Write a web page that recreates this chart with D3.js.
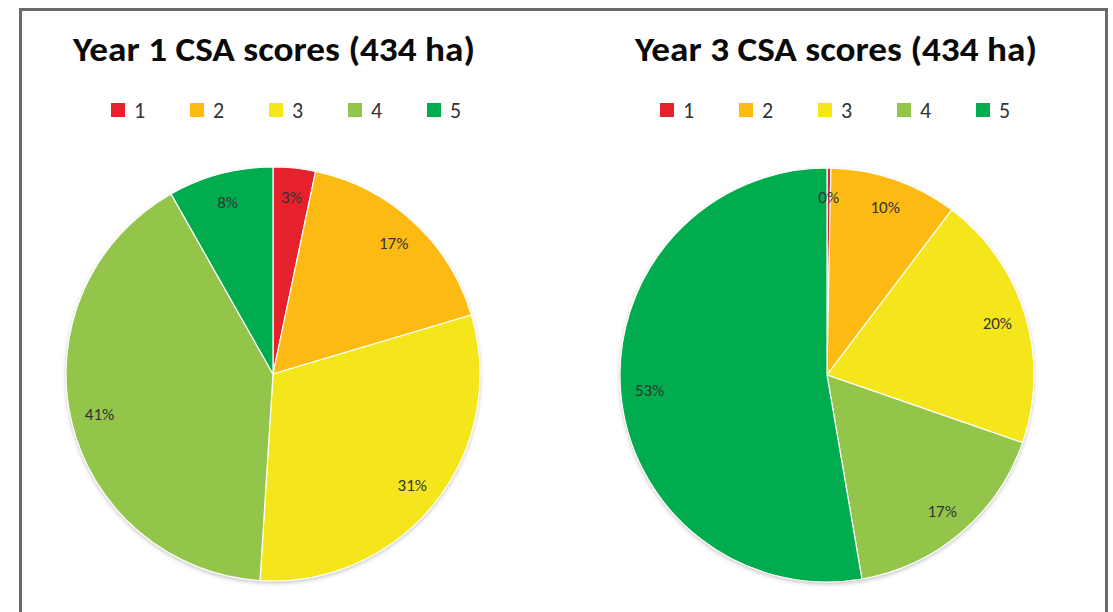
<!DOCTYPE html>
<html>
<head>
<meta charset="utf-8">
<script src="https://cdn.jsdelivr.net/npm/d3@7"></script>
<style>
  body { margin: 0; background: #fff; }
  svg text { font-family: Carlito, Calibri, Lato, "Open Sans", sans-serif; }
</style>
</head>
<body>
<svg id="chart" width="1113" height="612"></svg>
<script>
// scores and colours
var scores = ["1", "2", "3", "4", "5"];
var colors = ["#E6212B", "#FDBA12", "#F4E61A", "#93C54B", "#00AC4E"];

// share of the 434 ha in each score (%)
var year1 = [3.3, 17.1, 30.6, 40.8, 8.2];
var year3 = [0.3, 10.0, 20.0, 17.0, 52.7];

var titles = ["Year 1 CSA scores (434 ha)", "Year 3 CSA scores (434 ha)"];

var svg = d3.select("#chart");

// outer frame
svg.append("rect")
    .attr("x", 20.5)
    .attr("y", 9.5)
    .attr("width", 1086)
    .attr("height", 640)
    .attr("fill", "#fff")
    .attr("stroke", "#6a6a6a")
    .attr("stroke-width", 3);

// soft shadow under the pies
var defs = svg.append("defs");
var filter = defs.append("filter")
    .attr("id", "shadow")
    .attr("x", "-10%").attr("y", "-10%")
    .attr("width", "120%").attr("height", "120%");
filter.append("feDropShadow")
    .attr("dx", 0).attr("dy", 2)
    .attr("stdDeviation", 2)
    .attr("flood-color", "#000")
    .attr("flood-opacity", 0.25);

var panels = [
    { title: titles[0], values: year1, cx: 273, cy: 374, titleX: 274, legendX: 111 },
    { title: titles[1], values: year3, cx: 827, cy: 375, titleX: 836, legendX: 660 }
];

var radius = 207;

var pie = d3.pie().sort(null).value(function(d) { return d; });
var arc = d3.arc().innerRadius(0).outerRadius(radius);
var labelArc = d3.arc().innerRadius(radius * 0.86).outerRadius(radius * 0.86);

panels.forEach(function(p) {
    var g = svg.append("g");

    // title
    g.append("text")
        .attr("x", p.titleX)
        .attr("y", 61)
        .attr("text-anchor", "middle")
        .attr("textLength", 402)
        .attr("lengthAdjust", "spacingAndGlyphs")
        .style("font-size", "35px")
        .style("font-weight", "bold")
        .attr("fill", "#0a0a0a")
        .text(p.title);

    // legend
    var legendX = d3.scalePoint()
        .domain(scores)
        .range([p.legendX, p.legendX + 4 * 79]);

    var leg = g.selectAll(".legend")
        .data(scores)
        .enter()
        .append("g")
        .attr("transform", function(d) { return "translate(" + legendX(d) + ",103)"; });

    leg.append("rect")
        .attr("width", 14)
        .attr("height", 14)
        .attr("fill", function(d, i) { return colors[i]; });

    leg.append("text")
        .attr("x", 23)
        .attr("y", 15)
        .style("font-size", "22px")
        .attr("fill", "#333")
        .text(function(d) { return d; });

    // pie
    var pg = g.append("g")
        .attr("transform", "translate(" + p.cx + "," + p.cy + ")");

    var arcs = pie(p.values);

    pg.append("circle")
        .attr("r", radius)
        .attr("fill", "#fff")
        .attr("filter", "url(#shadow)");

    pg.selectAll("path")
        .data(arcs)
        .enter()
        .append("path")
        .attr("d", arc)
        .attr("fill", function(d, i) { return colors[i]; })
        .attr("stroke", "#fff")
        .attr("stroke-width", 1.2);

    pg.selectAll(".lbl")
        .data(arcs)
        .enter()
        .append("text")
        .attr("class", "lbl")
        .attr("transform", function(d) { return "translate(" + labelArc.centroid(d) + ")"; })
        .attr("text-anchor", "middle")
        .attr("dy", "0.35em")
        .style("font-size", "17px")
        .attr("fill", "#333")
        .text(function(d) { return Math.round(d.data) + "%"; });
});
</script>
</body>
</html>
